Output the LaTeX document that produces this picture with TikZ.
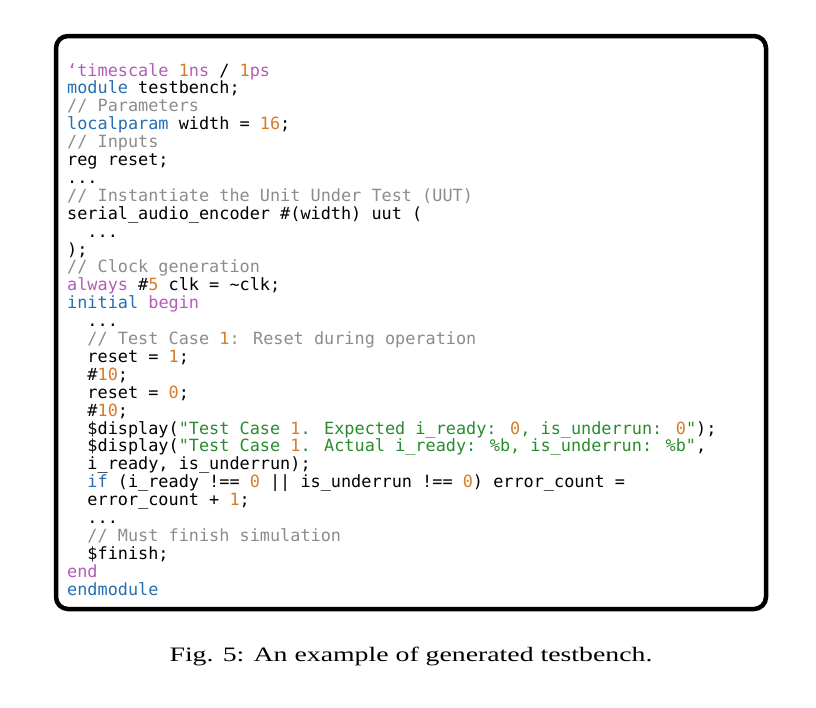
\documentclass[tikz,border=0pt]{standalone}
\usepackage{fontspec}
\setmainfont{Liberation Serif}
\newfontfamily\codefont{DejaVu Sans Mono}
\definecolor{vblue}{RGB}{38,110,178}
\definecolor{vpurple}{RGB}{178,92,182}
\definecolor{vorange}{RGB}{214,124,40}
\definecolor{vgray}{RGB}{140,140,140}
\definecolor{vgreen}{RGB}{40,140,46}
\newcommand{\vkw}[1]{\textcolor{vblue}{#1}}
\newcommand{\vdir}[1]{\textcolor{vpurple}{#1}}
\newcommand{\vnum}[1]{\textcolor{vorange}{#1}}
\newcommand{\vcmt}[1]{\textcolor{vgray}{#1}}
\newcommand{\vstr}[1]{\textcolor{vgreen}{#1}}
\newcommand{\vind}{\hphantom{xx}}
\tikzset{
  codeline/.style={anchor=base west,inner sep=0pt,font=\codefont\fontsize{16.85}{17}\selectfont},
  frame/.style={line width=4.5pt,rounded corners=12pt},
  caption/.style={inner sep=0pt,font=\fontsize{20.5}{21}\selectfont}
}
\begin{document}
\begin{tikzpicture}[x=1pt,y=-1pt]
	\useasboundingbox (0,0) rectangle (816,707);
	\draw[frame] (56,36) rectangle (766,609);
	% code lines, 17.9pt apart
	\node[codeline] (l1) at (67,76.0) {\vdir{‘timescale} \vnum{1}\vdir{ns} / \vnum{1}\vdir{ps}};
	\node[codeline] (l2) at (67,93.9) {\vkw{module} testbench;};
	\node[codeline] (l3) at (67,111.8) {\vcmt{// Parameters}};
	\node[codeline] (l4) at (67,129.7) {\vkw{localparam} width = \vnum{16};};
	\node[codeline] (l5) at (67,147.6) {\vcmt{// Inputs}};
	\node[codeline] (l6) at (67,165.5) {reg reset;};
	\node[codeline] (l7) at (67,183.4) {...};
	\node[codeline] (l8) at (67,201.3) {\vcmt{// Instantiate the Unit Under Test (UUT)}};
	\node[codeline] (l9) at (67,219.2) {serial\_audio\_encoder \#(width) uut (};
	\node[codeline] (l10) at (67,237.1) {\vind...};
	\node[codeline] (l11) at (67,255.0) {);};
	\node[codeline] (l12) at (67,272.9) {\vcmt{// Clock generation}};
	\node[codeline] (l13) at (67,290.8) {\vdir{always} \#\vnum{5} clk = \textasciitilde clk;};
	\node[codeline] (l14) at (67,308.7) {\vkw{initial} \vdir{begin}};
	\node[codeline] (l15) at (67,326.6) {\vind...};
	\node[codeline] (l16) at (67,344.5) {\vind\vcmt{// Test Case \vnum{1}: Reset during operation}};
	\node[codeline] (l17) at (67,362.4) {\vind reset = \vnum{1};};
	\node[codeline] (l18) at (67,380.3) {\vind\#\vnum{10};};
	\node[codeline] (l19) at (67,398.2) {\vind reset = \vnum{0};};
	\node[codeline] (l20) at (67,416.1) {\vind\#\vnum{10};};
	\node[codeline] (l21) at (67,434.0) {\vind\$display(\vstr{"Test Case \vnum{1}. Expected i\_ready: \vnum{0}, is\_underrun: \vnum{0}"});};
	\node[codeline] (l22) at (67,451.9) {\vind\$display(\vstr{"Test Case \vnum{1}. Actual i\_ready: \%b, is\_underrun: \%b"},};
	\node[codeline] (l23) at (67,469.8) {\vind i\_ready, is\_underrun);};
	\node[codeline] (l24) at (67,487.7) {\vind\vkw{if} (i\_ready !== \vnum{0} || is\_underrun !== \vnum{0}) error\_count =};
	\node[codeline] (l25) at (67,505.6) {\vind error\_count + \vnum{1};};
	\node[codeline] (l26) at (67,523.5) {\vind...};
	\node[codeline] (l27) at (67,541.4) {\vind\vcmt{// Must finish simulation}};
	\node[codeline] (l28) at (67,559.3) {\vind\$finish;};
	\node[codeline] (l29) at (67,577.2) {\vdir{end}};
	\node[codeline] (l30) at (67,595.1) {\vkw{endmodule}};
	% caption
	\node[caption,anchor=base] (cap) at (411,661) {\scalebox{1.355}[1]{Fig. 5: An example of generated testbench.}};
\end{tikzpicture}
\end{document}
